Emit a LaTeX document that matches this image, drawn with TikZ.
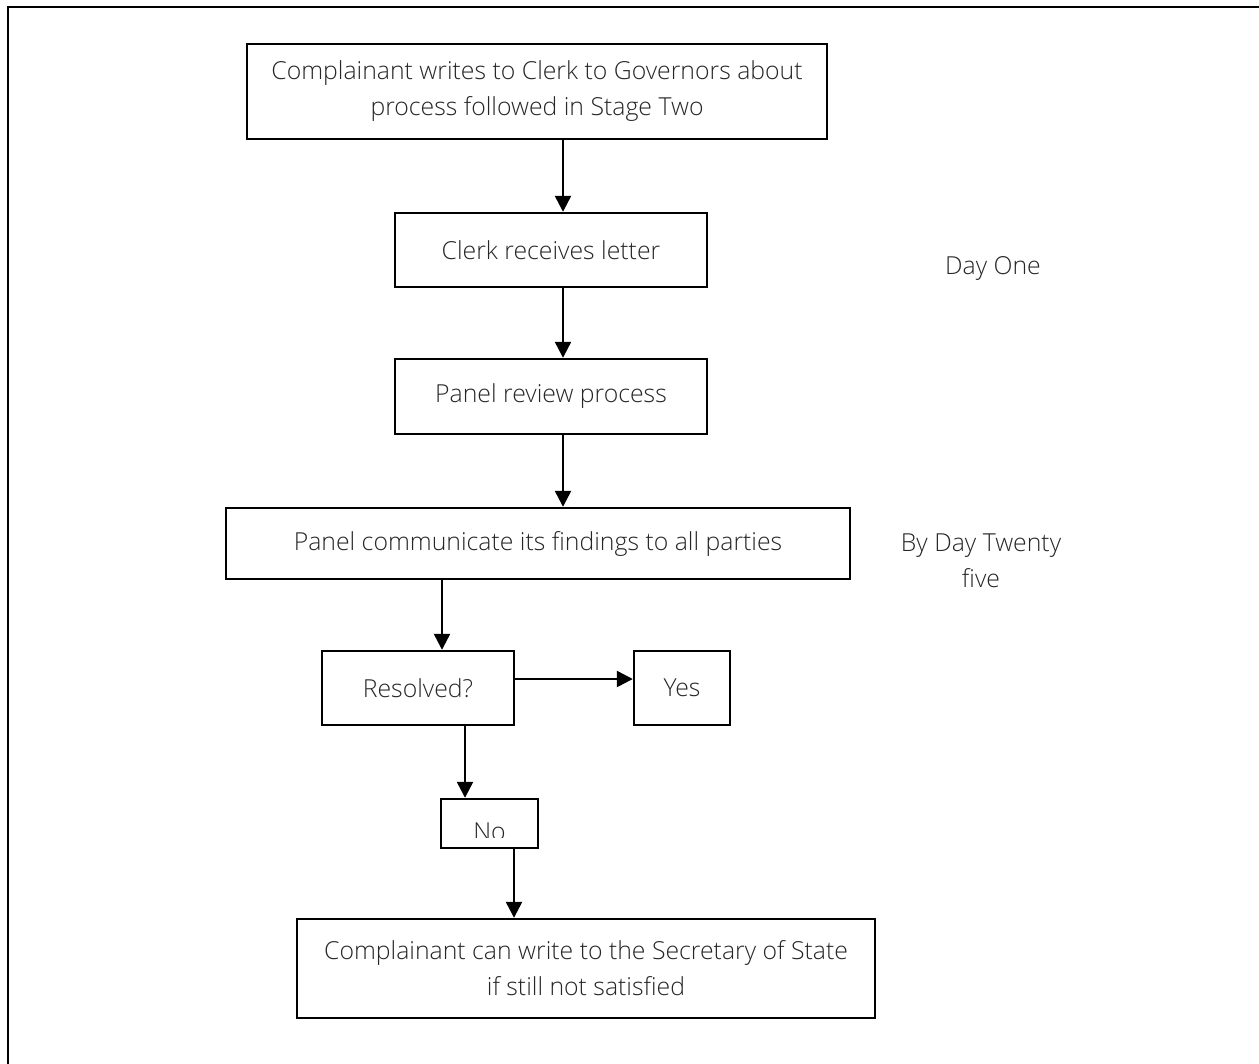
\documentclass[tikz,border=0pt]{standalone}
\usepackage{fontspec}
\setmainfont{Open Sans Light}
\usetikzlibrary{arrows.meta}
\begin{document}
\begin{tikzpicture}[x=0.75pt,y=-0.75pt,
  txt/.style={font=\fontsize{18.6}{27}\selectfont, text=black!85, align=center, inner sep=0pt},
  box/.style={draw, line width=1.8pt, txt},
  arr/.style={line width=1.8pt, -{Triangle[length=12pt,width=12pt]}}]
\useasboundingbox (0,0) rectangle (1259,1063);
\draw[line width=2pt] (8,7) rectangle (1275,1080);
\node[box, minimum width=435pt, minimum height=71.25pt] (b1) at (537,91.5) {Complainant writes to Clerk to Governors about\\process followed in Stage Two};
\node[box, minimum width=234pt, minimum height=55.5pt] (b2) at (551,250) {Clerk receives letter};
\node[box, minimum width=234pt, minimum height=56.25pt] (b3) at (551,396.5) {Panel review process};
\node[box, minimum width=468pt, minimum height=53.25pt] (b4) at (538,543.5) {Panel communicate its findings to all parties};
\node[box, minimum width=144pt, minimum height=55.5pt] (b5) at (418,688) {Resolved?};
\node[box, minimum width=72pt, minimum height=55.5pt] (yes) at (682,688) {Yes};
\node[box, minimum width=72.75pt, minimum height=36.75pt] (no) at (489.5,823.5) {};
\begin{scope}
  \clip (441,801) rectangle (538,837);
  \node[txt, anchor=base] (notext) at (489.5,840) {No};
\end{scope}
\node[box, minimum width=433.5pt, minimum height=74.25pt] (b6) at (586,968.5) {Complainant can write to the Secretary of State\\if still not satisfied};
\node[txt] (d1) at (993,268) {Day One};
\node[txt] (d25) at (981,561) {By Day Twenty\\five};
\coordinate (xa) at (563,0);
\coordinate (xb) at (442,0);
\coordinate (xc) at (465,0);
\coordinate (xd) at (514,0);
\coordinate (ya) at (0,679);
\draw[arr] (b1.south -| xa) -- (b2.north -| xa);
\draw[arr] (b2.south -| xa) -- (b3.north -| xa);
\draw[arr] (b3.south -| xa) -- (b4.north -| xa);
\draw[arr] (b4.south -| xb) -- (b5.north -| xb);
\draw[arr] (b5.east |- ya) -- (yes.west |- ya);
\draw[arr] (b5.south -| xc) -- (no.north -| xc);
\draw[arr] (no.south -| xd) -- (b6.north -| xd);
\end{tikzpicture}
\end{document}
